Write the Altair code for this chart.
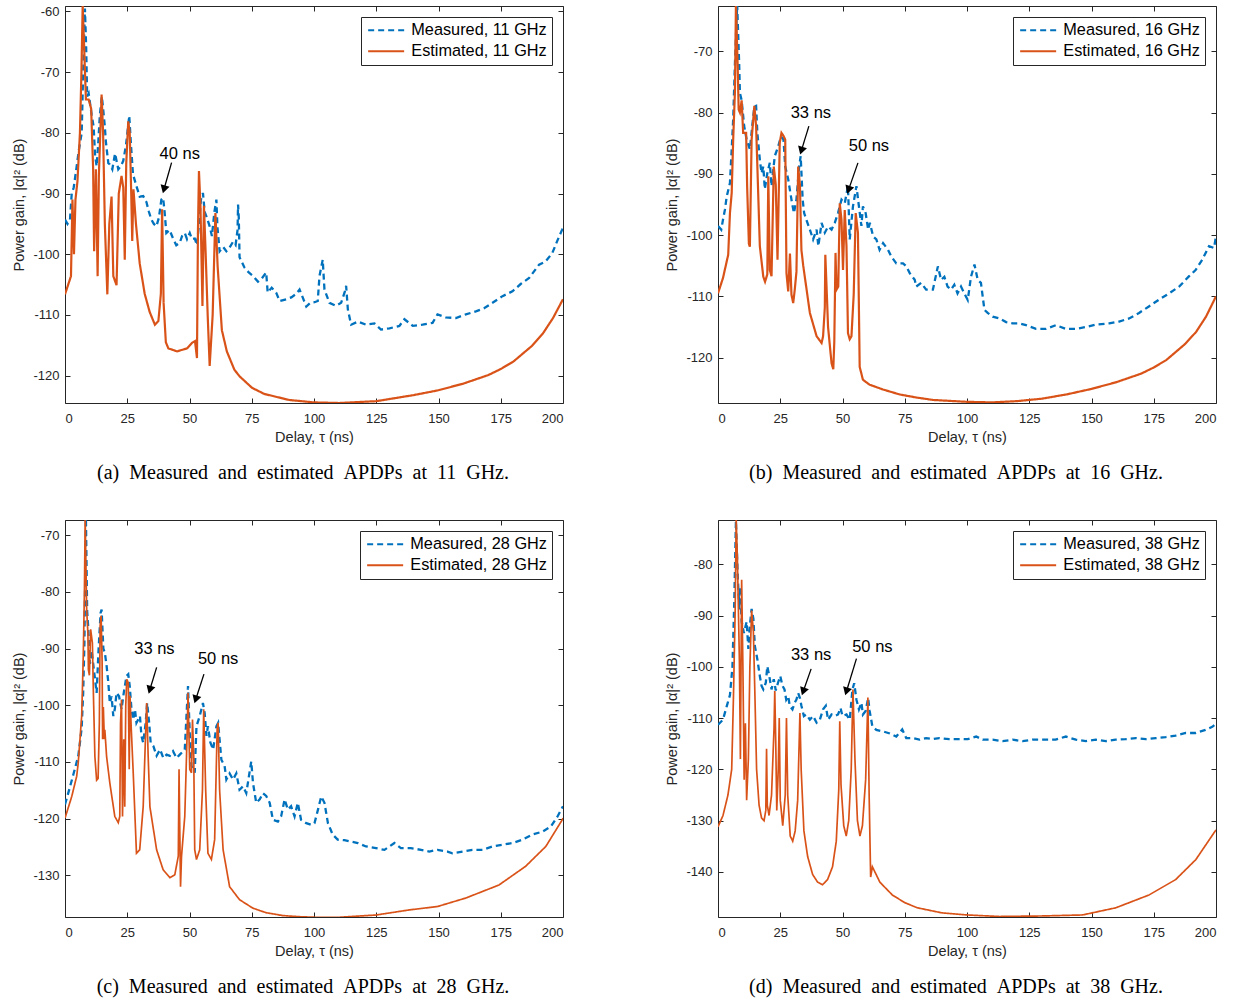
import math
import altair as alt
import pandas as pd

BLUE = "#0072BD"
ORANGE = "#D95319"
TXT = "#262626"
XTICKS = [0, 25, 50, 75, 100, 125, 150, 175, 200]

# ---------------- Panel (a) 11 GHz ----------------
a_meas_x = [0, 1, 2, 2.7, 3.5, 4.7, 5.5, 6.7, 7.3, 8, 8.5, 8.9, 9.5, 10.7, 11.5, 12.1, 12.7, 13.3, 14, 14.8, 15.3, 16, 16.4, 17.4, 18, 19, 20.1, 21.4, 22.4, 23.4, 24.5, 25.8, 26.5, 27.3, 28.7, 30, 31.4, 32.7, 33.7, 34.7, 35.7, 36.7, 37.7, 38.7, 39.4, 40, 40.7, 42, 43.4, 44.7, 46.1, 47, 48.1, 49, 50.1, 51, 52.1, 53, 53.8, 54.6, 55.4, 56.1, 57, 58.1, 59, 60, 60.8, 61.2, 62.1, 63.5, 64.8, 66.1, 67.4, 68.5, 69.3, 69.5, 69.8, 70.1, 72.1, 73.8, 75.5, 77.5, 79, 80.8, 81.4, 83, 84.8, 86.2, 88.9, 90.9, 92.9, 94.2, 96.9, 98.5, 100.2, 101.5, 102.2, 103.5, 104.2, 106.2, 108.8, 110.9, 112.5, 112.9, 113.6, 114.9, 117.6, 120.9, 124.3, 126.9, 130.3, 134.3, 136.3, 139.7, 143.6, 147.6, 149.6, 152.9, 157, 161, 165, 168.3, 171.7, 175.7, 179.7, 183, 186.4, 190.4, 193, 195.7, 197.7, 199.7, 200]
a_meas_y = [-94.3, -95, -94.3, -90, -89, -85.5, -83, -80, -70, -59.5, -66, -74, -73.5, -77, -79, -83.8, -85.5, -82, -77, -74, -76, -79, -81.4, -85, -85.2, -86, -83.4, -86, -85.5, -84.6, -82, -77.2, -82, -86.8, -88.8, -90.5, -90.4, -91.4, -93, -94.3, -95, -95.4, -94, -91, -90.7, -93, -96.5, -96, -97.4, -98.5, -98.1, -97, -96.5, -97.5, -96.5, -97.5, -97.4, -98.5, -95, -91, -89.9, -93, -94, -95.4, -97, -93, -91, -95.4, -99.5, -98.8, -99.5, -98.9, -98, -98.5, -96, -91.8, -94, -100.5, -102.2, -103, -103.6, -104.5, -104, -103, -106.3, -105.5, -106.3, -107.7, -107.4, -107.1, -106.5, -105.8, -108.6, -108, -107.9, -107.7, -103.6, -100.9, -105.8, -108, -108.5, -108, -106, -105.2, -109.1, -111.6, -111.1, -111.6, -111.4, -112.4, -112.2, -111.8, -110.7, -111.8, -111.6, -111.3, -109.9, -110.4, -110.5, -109.9, -109.4, -108.9, -108, -106.9, -106.1, -104.9, -103.9, -101.7, -101.2, -99.8, -97.8, -95.9, -95.5]
a_est_x = [0, 2.4, 3, 3.6, 4.2, 5, 6, 6.6, 7.1, 7.7, 8.4, 9.5, 10.5, 11.3, 11.7, 12.4, 13.1, 13.6, 14.7, 15.3, 16, 17, 17.8, 18.7, 19.4, 20.7, 21.6, 22.7, 23.4, 24, 24.6, 25.4, 26, 26.6, 27, 27.5, 28.5, 30, 32, 34, 36.1, 37.5, 38.5, 39, 39.6, 40.5, 41.5, 45, 49, 51, 52.2, 53, 53.4, 53.8, 54.4, 55.2, 55.8, 56.5, 57.3, 58.1, 59.3, 60.4, 61.3, 63, 65, 68, 70.1, 75.1, 80, 90, 100, 110, 125, 140, 150, 160, 170, 175, 180, 187.5, 192, 196, 200]
a_est_y = [-106.6, -103.6, -91, -100, -91, -88, -80, -70, -59, -66, -74.5, -74.5, -76, -86, -99.5, -86, -103.6, -87, -73.7, -80, -95, -106.6, -95, -90.5, -103.6, -105.1, -90, -87.1, -89, -100.9, -85, -78.1, -80, -90, -97.8, -89.3, -95, -101.5, -106.5, -109.5, -111.6, -111, -106.5, -92.6, -108, -114.5, -115.5, -116, -115.5, -114.6, -114.3, -117.1, -96, -86.3, -92, -108.5, -92, -100, -110, -118.4, -110, -93.2, -102, -112.5, -116, -119, -120.1, -122, -123, -124, -124.4, -124.5, -124.2, -123.2, -122.4, -121.3, -119.9, -118.9, -117.7, -115.1, -113, -110.5, -107.4]

# ---------------- Panel (b) 16 GHz ----------------
b_meas_x = [0, 1.3, 2, 2.8, 3.5, 4.8, 5.5, 6.1, 6.8, 7.7, 8.5, 8.8, 9.5, 10.5, 11.5, 12.8, 13.8, 14.6, 15.3, 15.8, 16.8, 17.5, 18.2, 18.8, 19.8, 20.8, 21.5, 22.8, 24.2, 25.3, 26.3, 27, 28.2, 29.5, 30.5, 31.5, 32.6, 33.2, 34, 34.6, 35.5, 36.9, 38.2, 39.6, 40.3, 41.6, 42.9, 44.2, 45.6, 46.9, 48.2, 49.6, 50.9, 52.2, 52.9, 54.2, 55.6, 56.5, 57.6, 58.2, 59.3, 60.3, 61, 62.3, 63.6, 64.9, 66.3, 68.3, 69.6, 71.6, 74.3, 75.6, 77, 79, 79.6, 81.6, 83.6, 86.3, 88.3, 89.6, 90.9, 92.2, 93.6, 94.9, 96.2, 97.6, 98.9, 100.3, 101.6, 103, 104.3, 105.6, 107, 108.3, 110.3, 113, 115.7, 118.4, 121, 123.7, 127.7, 131.7, 135.7, 139.7, 143.7, 147.8, 151.8, 157.1, 161.1, 165.1, 169.1, 173.2, 177.2, 181.2, 185.2, 189.2, 191.8, 194.5, 197.2, 199.2, 200]
b_meas_y = [-98.5, -99.1, -97.5, -95.8, -93.7, -91.5, -86, -81.1, -72, -62.4, -72, -76.8, -78, -82.2, -84.4, -86, -82, -79, -78.9, -83.3, -87.7, -89.9, -88.8, -92.5, -89.9, -88.2, -92, -87.1, -85.5, -83.9, -84.4, -88.8, -90.9, -94.2, -96.4, -94.2, -88.8, -87.1, -94.2, -96.4, -97.5, -99.1, -100.7, -99.1, -101.8, -98, -99.6, -98.6, -99.1, -98, -96.4, -94.2, -94.8, -92, -100.7, -95.3, -92, -95, -98.5, -95.3, -96.4, -99.1, -98, -100.2, -100.7, -102.4, -101.3, -102.4, -103.5, -104.6, -104.6, -105.1, -106.2, -107.3, -108.4, -107.8, -108.9, -108.9, -105.1, -107.3, -106.8, -108.4, -108.9, -108.1, -109.5, -108.4, -109.5, -110.6, -106.8, -104.8, -107.3, -107.8, -112.2, -112.7, -113.3, -113.6, -114.2, -114.4, -114.4, -114.7, -115.3, -115.3, -114.7, -115.3, -115.3, -115, -114.6, -114.4, -114.1, -113.6, -112.7, -111.6, -110.5, -109.5, -108.4, -106.7, -105.7, -104, -101.8, -102.1, -100.2]
b_est_x = [0, 2, 4.1, 4.8, 5.5, 6.1, 6.8, 7.2, 7.9, 8.3, 8.8, 9.5, 10.1, 11.3, 11.7, 12.4, 12.8, 13.5, 14.6, 15.3, 15.8, 16.8, 18.2, 18.9, 19.8, 20.2, 20.8, 21.5, 22.4, 23.2, 23.9, 24.8, 25.5, 26.3, 27, 27.5, 28.2, 28.9, 29.5, 30.2, 30.8, 31.5, 32.2, 32.9, 33.5, 34.2, 36.9, 39.6, 41.6, 42.2, 42.9, 43.1, 43.5, 44.2, 45.6, 46.3, 46.7, 47.2, 47.6, 48.3, 48.9, 49.6, 50.2, 50.9, 51.6, 52.2, 52.9, 53.6, 54.5, 55.3, 56.2, 56.9, 58.2, 60.8, 66.3, 72.9, 79.6, 86.3, 99.6, 110, 120, 130, 140, 150, 160, 170, 175, 180, 187.5, 192, 196, 200]
b_est_y = [-109.5, -107, -103.2, -96.4, -93.1, -84.4, -76.6, -62.4, -72.4, -79.5, -80, -78, -83.3, -83.3, -92, -101.4, -101.9, -84.4, -78.9, -82.2, -88.7, -101.8, -106.8, -107.6, -106.4, -90.4, -105.7, -106.7, -88.8, -91.8, -104, -84.9, -83.3, -83.8, -84.4, -106.2, -109.2, -103, -109.7, -111.1, -109, -106, -88.8, -91.8, -102.4, -104.9, -112.7, -116.5, -117.6, -116.5, -111.8, -103.2, -107.4, -115, -120.9, -121.9, -117.5, -102.9, -108.9, -108.4, -94.8, -97.5, -105.7, -95.9, -101.8, -116, -117, -116.5, -109.7, -96.4, -99.6, -121.5, -123.6, -124.4, -125.2, -126, -126.5, -126.9, -127.2, -127.3, -127.1, -126.7, -126, -125.1, -124, -122.6, -121.6, -120.4, -117.8, -115.8, -113.3, -110]

# ---------------- Panel (c) 28 GHz ----------------
c_meas_x = [0, 1.3, 3.3, 5.3, 6, 6.7, 7.3, 7.8, 8.4, 8.9, 9.3, 10, 10.7, 11.6, 12.7, 13.5, 14.3, 14.7, 15.4, 16, 16.7, 17.4, 18, 18.7, 19.4, 20, 20.7, 21.7, 22.7, 23.6, 24.7, 25.4, 26, 26.7, 27.4, 28.1, 28.7, 30.1, 30.7, 31.4, 32.4, 33, 33.8, 34.4, 35.5, 36.8, 38.2, 39.5, 40.8, 42.1, 43.4, 44.8, 46.1, 48.1, 49.4, 50.1, 50.8, 52.1, 52.8, 54.1, 55.4, 56.1, 56.8, 57.4, 58.4, 59.5, 60.8, 61.5, 62.8, 64.1, 64.8, 66.1, 67.5, 68.8, 70.1, 71.5, 72.8, 74.8, 75.5, 76.8, 78.2, 79.5, 80.8, 82.2, 83.5, 85.5, 86.8, 88.2, 89.5, 90.8, 92.2, 93.5, 94.8, 96.9, 98.9, 100.2, 101.6, 102.9, 104.2, 105.6, 107.5, 109.5, 112.2, 114.2, 117.6, 120.9, 124.9, 128.3, 132.3, 134.9, 138.9, 143, 146.3, 149.6, 153.6, 155.6, 159.6, 163.6, 167.7, 171.7, 175.7, 179.7, 183.7, 187.7, 191.7, 195.1, 197.7, 200]
c_meas_y = [-117.5, -115.5, -112.3, -109, -106.6, -104, -97.8, -89, -67, -83.4, -86, -92.7, -90.3, -93.7, -97.8, -90, -83.7, -83.1, -90, -90.7, -93, -96, -99.6, -98.4, -101.9, -100.7, -97.8, -98.4, -100.7, -97.8, -94.8, -94.5, -96.6, -100.7, -102.5, -100.7, -103.1, -101.9, -105.4, -106.6, -103.1, -99.6, -103.1, -106.6, -107.2, -108.9, -107.8, -109.3, -108.7, -108.9, -108.1, -109.3, -108.7, -107.8, -96.6, -104.9, -110.7, -111.9, -103.7, -101.9, -99.6, -101.4, -105.4, -103.7, -106.6, -107.8, -103.7, -103.1, -109.6, -110.7, -113.1, -112, -113.1, -112, -114.9, -114.3, -115.5, -109.9, -113.7, -117.2, -116.6, -115.5, -116, -117.2, -120.2, -120.5, -119.6, -116.6, -118.4, -117.8, -119.6, -117.2, -120.2, -120.8, -121.1, -120.8, -118.4, -116.1, -117.2, -120.8, -122.8, -123.7, -123.8, -124, -124.3, -124.9, -125.2, -125.5, -124.3, -125.2, -125.2, -125.5, -125.8, -125.5, -125.8, -126.1, -125.8, -125.5, -125.5, -124.9, -124.6, -124.3, -123.7, -122.8, -122.3, -121.4, -119.7, -117.8]
c_est_x = [0, 2.7, 4.7, 5.3, 5.9, 6.7, 7.3, 7.8, 8.1, 8.7, 9.2, 9.4, 9.8, 10.3, 11, 11.4, 12, 12.7, 13.3, 13.8, 14.1, 14.5, 14.9, 15.1, 15.4, 15.8, 16, 16.7, 18, 20, 21.4, 22, 22.3, 22.7, 23.1, 23.6, 24, 24.4, 24.8, 25.4, 25.8, 26.1, 26.6, 27.4, 28.7, 30, 31.4, 32.3, 32.8, 33.4, 34.1, 36.8, 39.4, 42.1, 44.1, 45.5, 45.8, 46.1, 46.4, 46.8, 48.1, 49.1, 49.4, 50.1, 50.8, 51.2, 51.7, 52.1, 52.8, 54.1, 55.2, 55.7, 56.5, 57.4, 58.8, 60.1, 61.1, 61.5, 62.1, 63.5, 66.1, 70.1, 75.5, 80.8, 87.5, 94.2, 100.9, 110, 124.9, 138.3, 149.6, 161, 174.3, 185, 193.1, 199.7, 200]
c_est_y = [-119.9, -116.1, -112.5, -110.2, -106.7, -101.9, -92, -80, -67, -83.1, -87.3, -93.7, -94.7, -86.6, -89, -97.8, -109, -113.2, -112.9, -103.1, -86, -84.2, -92, -106, -100.3, -106, -104.3, -109, -113.7, -119.6, -120.7, -119.6, -103.1, -99, -119.6, -106, -117.9, -100, -95.4, -96, -111.3, -98.3, -104, -111.9, -126.1, -125.5, -117.9, -106, -99.6, -109, -117.9, -125.5, -129, -130.4, -129.9, -126.6, -111.3, -122, -132, -126.6, -119.6, -104.3, -97.8, -111.3, -111.9, -102.5, -109, -125.5, -127.2, -125.5, -115, -100.7, -115, -126.1, -127.2, -123.7, -104.3, -103.1, -115, -125.5, -132, -134.3, -135.8, -136.6, -137.1, -137.3, -137.4, -137.4, -137, -136.1, -135.5, -134, -131.7, -128.4, -124.9, -120.2, -119.9]

# ---------------- Panel (d) 38 GHz ----------------
d_meas_x = [0, 2, 3.5, 4.8, 5.8, 6.5, 7.2, 7.9, 8.6, 8.8, 9.5, 10.4, 11.5, 12.2, 12.8, 13.5, 14.2, 14.8, 15.8, 16.8, 17.5, 18.2, 19.2, 19.8, 20.6, 21.5, 22.4, 23.2, 24.1, 25, 25.9, 26.7, 27.4, 28.2, 28.8, 29.9, 30.8, 31.5, 32.2, 32.9, 33.5, 34.5, 35.5, 36.9, 38.2, 39.6, 40.9, 42.2, 43.3, 44.2, 45.6, 46.9, 48.2, 49.2, 50, 51.6, 52.9, 54, 54.7, 55.6, 56.6, 57.6, 58.2, 59.3, 60.3, 60.9, 62, 63.6, 66.3, 69, 71.6, 74, 75.6, 78.3, 80.9, 83.6, 86.3, 88.9, 92.9, 96.9, 100.3, 103.7, 106.3, 110.3, 114.3, 118.3, 122.3, 126.3, 131.6, 135.6, 139.7, 143.7, 147.7, 151.7, 155.7, 159.7, 163.7, 167.8, 171.8, 175.8, 179.8, 183.8, 187.8, 191.8, 195.8, 198.5, 200]
d_meas_y = [-111.3, -110.3, -107.7, -105.5, -100, -88, -71.5, -82, -88.8, -84.4, -91.2, -93.4, -91.2, -96.5, -91.9, -88.7, -90.6, -95.9, -98.5, -101.8, -103.7, -104.4, -103.1, -99.9, -101.8, -104.4, -102.4, -104.6, -103.1, -101.8, -103.7, -104.4, -106.4, -105.7, -107.6, -108.3, -107, -106.4, -105.1, -106.1, -107.6, -109.6, -109.3, -110.3, -109.6, -110.9, -110.3, -108.3, -107.6, -110.3, -109.3, -109.6, -109.3, -108, -109.6, -109.3, -110.3, -104.4, -103.2, -106.4, -108.3, -107, -109.3, -108.6, -106.1, -108.6, -111.6, -112.3, -112.6, -113, -113.6, -112.2, -113.9, -113.9, -114.2, -113.9, -114.1, -113.9, -114.1, -114.1, -114.1, -113.6, -114.2, -114.2, -114.5, -114.2, -114.5, -114.2, -114.2, -114.2, -113.6, -114.2, -114.5, -114.2, -114.5, -114.2, -114.1, -113.9, -114.1, -113.9, -113.7, -113.4, -112.9, -112.9, -112.3, -111.7, -111.1]
d_est_x = [0, 2, 4, 5.5, 6.2, 6.9, 7.3, 7.8, 8.2, 8.6, 9.0, 9.5, 10, 10.5, 11, 11.5, 12.2, 12.8, 13.5, 14.2, 14.8, 15.5, 16.5, 17.5, 18.5, 19.2, 19.5, 19.8, 20.5, 21.5, 22.5, 22.8, 23.2, 23.6, 24.2, 24.6, 25, 26, 27, 27.5, 28, 29, 30, 31, 32, 32.9, 33.4, 34.5, 36, 38, 40, 42, 44, 46, 47.5, 48.5, 48.9, 49.4, 50.5, 51.5, 52.5, 53.5, 54.2, 55, 56, 57, 58, 59.3, 60.2, 60.7, 61.3, 62, 65, 70, 75, 80, 90, 100, 113, 130, 146.4, 159.8, 173.1, 183.8, 191.9, 200]
d_est_y = [-131.2, -129, -125, -120, -106, -89, -71.2, -79, -89, -99, -118, -83, -100, -122, -111, -126, -118, -100, -89, -93, -105, -120, -127, -129.5, -130, -128, -116, -127, -129, -125, -112, -104.7, -115, -128, -120, -110, -126, -131, -125, -110, -125, -133, -134, -132, -126, -109, -120, -132, -137, -140.5, -142, -142.5, -141.5, -139, -134, -124, -110.6, -123, -131, -133, -130, -120, -104.4, -118, -130, -133, -131, -122, -106, -125, -141, -139, -142, -144.5, -146, -147, -148, -148.4, -148.7, -148.6, -148.4, -147, -144.5, -141.5, -137.6, -131.8]

# annotations: label, text x, text y, arrow start x, y, arrow tip x, y
a_notes = [["40 ns", 46.1, -83.4, 42.8, -84.9, 39.4, -89.8]]
b_notes = [["33 ns", 37.3, -80.0, 36.5, -82.2, 33.1, -86.7],
           ["50 ns", 60.6, -85.5, 56.2, -88.2, 52.0, -93.1]]
c_notes = [["33 ns", 35.9, -90.1, 36.8, -93.3, 33.7, -97.8],
           ["50 ns", 61.5, -91.8, 55.8, -94.5, 52.1, -99.5]]
d_notes = [["33 ns", 37.4, -97.7, 37.4, -100.4, 33.8, -105.4],
           ["50 ns", 62.0, -96.2, 55.6, -98.4, 51.2, -105.4]]

W, H = 498, 397
YLAB = "(datum.value < 0 ? '-' : '') + abs(datum.value)"


def panel(mx, my, ex, ey, freq, ydom, yticks, notes, caption, est_w):
    m_lbl = f"Measured, {freq} GHz"
    e_lbl = f"Estimated, {freq} GHz"
    dm = pd.DataFrame({"x": mx, "y": my, "s": m_lbl, "i": list(range(len(mx)))})
    de = pd.DataFrame({"x": ex, "y": ey, "s": e_lbl, "i": list(range(len(ex)))})
    xs = alt.Scale(domain=[0, 200], nice=False, zero=False)
    ys = alt.Scale(domain=ydom, nice=False, zero=False)
    leg = alt.Legend(title=None, orient="top-right", offset=11, symbolType="M-3,0H3",
                     symbolSize=144, symbolOffset=12, symbolStrokeWidth=2, labelFont="Liberation Sans",
                     labelFontSize=16.3, labelColor="black", strokeColor=TXT, fillColor="white",
                     padding=5, rowPadding=4, labelOffset=17, cornerRadius=0)
    dom = [m_lbl, e_lbl]
    color = alt.Color("s:N", scale=alt.Scale(domain=dom, range=[BLUE, ORANGE]), legend=leg, title=None)
    dash = alt.StrokeDash("s:N", scale=alt.Scale(domain=dom, range=[[6, 4], [1, 0]]), legend=leg, title=None)
    xax = alt.Axis(values=XTICKS, title="Delay, τ (ns)", labelPadding=9, titlePadding=5)
    yax = alt.Axis(values=yticks, title="Power gain, |α|² (dB)", labelPadding=6, titlePadding=6,
                   labelExpr=YLAB)
    meas = alt.Chart(dm).mark_line(strokeWidth=2.3, clip=True).encode(
        x=alt.X("x:Q", scale=xs, axis=xax), y=alt.Y("y:Q", scale=ys, axis=yax),
        color=color, strokeDash=dash, order="i:Q")
    est = alt.Chart(de).mark_line(strokeWidth=est_w, clip=True).encode(
        x=alt.X("x:Q", scale=xs, axis=None), y=alt.Y("y:Q", scale=ys, axis=None),
        color=color, strokeDash=dash, order="i:Q")
    kx = W / 200.0
    ky = H / (ydom[1] - ydom[0])
    rows = []
    back = 4.5
    for lab, tx, ty, x1, y1, x2, y2 in notes:
        dx = (x2 - x1) * kx
        dy = -(y2 - y1) * ky
        L = math.hypot(dx, dy)
        ux, uy = dx / L, dy / L
        ang = math.degrees(math.atan2(dx, -dy)) % 360
        cx = x2 - ux * back / kx
        cy = y2 + uy * back / ky
        rows.append({"lab": lab, "tx": tx, "ty": ty, "x1": x1, "y1": y1, "cx": cx, "cy": cy, "ang": ang})
    dn = pd.DataFrame(rows)
    arrows = alt.Chart(dn).mark_rule(color="black", strokeWidth=1.3).encode(
        x=alt.X("x1:Q", scale=xs, axis=None), y=alt.Y("y1:Q", scale=ys, axis=None),
        x2="cx:Q", y2="cy:Q")
    heads = alt.Chart(dn).mark_point(shape="triangle", filled=True, color="black", size=85, opacity=1).encode(
        x=alt.X("cx:Q", scale=xs, axis=None), y=alt.Y("cy:Q", scale=ys, axis=None),
        angle=alt.Angle("ang:Q", scale=None))
    texts = alt.Chart(dn).mark_text(font="Liberation Sans", fontSize=16.5, color="black",
                                    align="center", baseline="middle").encode(
        x=alt.X("tx:Q", scale=xs, axis=None), y=alt.Y("ty:Q", scale=ys, axis=None), text="lab:N")
    cap = alt.Chart(pd.DataFrame({"t": [caption]})).mark_text(
        font="Liberation Serif", fontSize=20, color="black", align="center", baseline="middle").encode(
        x=alt.value(238), y=alt.value(467), text="t:N")
    frame = alt.Chart(dm).mark_line(strokeOpacity=0).encode(
        x=alt.X("x:Q", scale=xs, axis=alt.Axis(orient="top", values=XTICKS, labels=False, title=None)),
        y=alt.Y("y:Q", scale=ys, axis=alt.Axis(orient="right", values=yticks, labels=False, title=None)))
    return alt.layer(meas, est, arrows, heads, texts, cap, frame).resolve_axis(
        x="independent", y="independent").properties(width=W, height=H)


S = "\u2002"
pa = panel(a_meas_x, a_meas_y, a_est_x, a_est_y, 11, [-124.5, -59.1], [-120, -110, -100, -90, -80, -70, -60],
           a_notes, S.join("(a) Measured and estimated APDPs at 11 GHz.".split(" ")), 2.2)
pb = panel(b_meas_x, b_meas_y, b_est_x, b_est_y, 16, [-127.4, -62.6], [-120, -110, -100, -90, -80, -70],
           b_notes, S.join("(b) Measured and estimated APDPs at 16 GHz.".split(" ")), 2.2)
pc = panel(c_meas_x, c_meas_y, c_est_x, c_est_y, 28, [-137.35, -67.3], [-130, -120, -110, -100, -90, -80, -70],
           c_notes, S.join("(c) Measured and estimated APDPs at 28 GHz.".split(" ")), 1.7)
pd_ = panel(d_meas_x, d_meas_y, d_est_x, d_est_y, 38, [-148.8, -71.35], [-140, -130, -120, -110, -100, -90, -80],
            d_notes, S.join("(d) Measured and estimated APDPs at 38 GHz.".split(" ")), 1.7)

chart = alt.concat(pa, pb, pc, pd_, columns=2, spacing={"row": 117, "column": 155}, bounds="flush").resolve_scale(
    color="independent", strokeDash="independent").resolve_legend(color="independent", strokeDash="independent")

chart = chart.configure_axis(
    labelFont="Liberation Sans", labelFontSize=13, labelColor=TXT, titleFont="Liberation Sans",
    titleFontSize=14.5, titleFontWeight="normal", titleColor=TXT, tickColor=TXT, tickSize=5,
    tickWidth=1, domain=False, grid=False, offset=-5
).configure_view(stroke=TXT, strokeWidth=1).properties(
    padding={"left": 11, "top": 4, "right": 5, "bottom": 5}, background="white")

chart.save("out.html", embed_options={"renderer": "svg", "actions": False})
